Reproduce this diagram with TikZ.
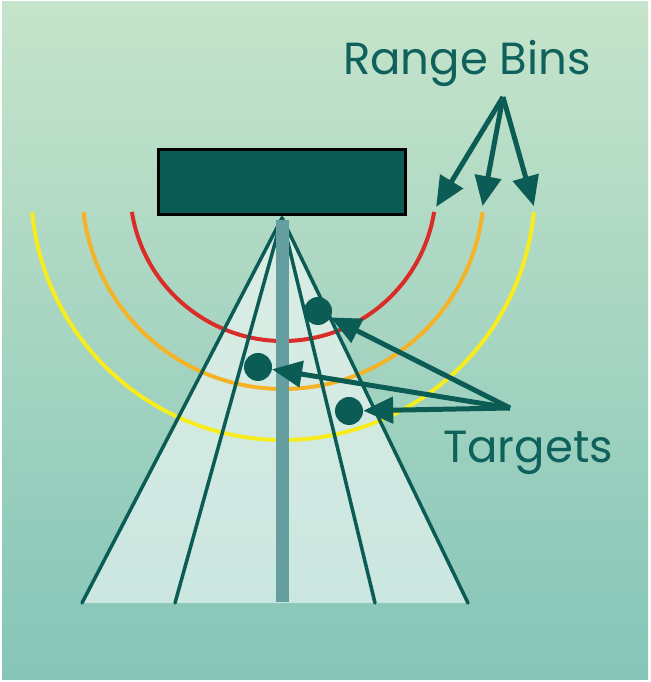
\documentclass[tikz,border=0pt]{standalone}
\usepackage{fontspec}
\setmainfont{Poppins}
\usetikzlibrary{arrows.meta,calc}
\definecolor{bgtop}{RGB}{198,228,203}
\definecolor{bgbot}{RGB}{133,197,184}
\definecolor{tealdk}{RGB}{12,92,86}
\definecolor{txtteal}{RGB}{15,97,92}
\definecolor{polecol}{RGB}{100,158,158}
\definecolor{arcred}{RGB}{218,44,40}
\definecolor{arcorange}{RGB}{245,180,40}
\definecolor{arcyellow}{RGB}{246,236,30}
\tikzset{
  fanline/.style={draw=tealdk,line width=3.5pt,line cap=round},
  polestyle/.style={draw=polecol,line width=13pt},
  rangearc/.style={line width=4pt},
  radarbox/.style={draw=black,line width=3pt,fill=tealdk,minimum width=247pt,minimum height=65pt,inner sep=0pt},
  target/.style={circle,fill=tealdk,minimum size=28pt,inner sep=0pt},
  pointer/.style={draw=tealdk,line width=5pt,-{Triangle[length=30pt,width=26pt]}},
  label/.style={text=txtteal,font=\fontsize{45}{50}\selectfont,anchor=base,inner sep=0pt}
}
\begin{document}
\begin{tikzpicture}[x=1pt,y=1pt]
\useasboundingbox (0,0) rectangle (650,682);
\fill[white] (0,0) rectangle (650,682);
\shade[top color=bgtop,bottom color=bgbot] (2,2) rectangle (648,680);
% geometry
\coordinate (apex) at (282,464);
\coordinate (b1) at (82,79);
\coordinate (b2) at (175,79);
\coordinate (b3) at (375,79);
\coordinate (b4) at (468,79);
\coordinate (c) at (283,494);
\coordinate (poletop) at (282.5,462);
\coordinate (polebot) at (282.5,80);
% fan fill
\fill[white,opacity=0.55] (apex) -- (b1) -- (b4) -- cycle;
% range arcs
\draw[rangearc,arcred] (c) ++(189:153) arc[start angle=189,end angle=351,radius=153] coordinate (rE);
\draw[rangearc,arcorange] (c) ++(186.9:201) arc[start angle=186.9,end angle=353.1,radius=201] coordinate (oE);
\draw[rangearc,arcyellow] (c) ++(185.5:252) arc[start angle=185.5,end angle=354.5,radius=252] coordinate (yE);
% fan lines
\draw[fanline] (apex) -- (b1);
\draw[fanline] (apex) -- (b2);
\draw[fanline] (apex) -- (b3);
\draw[fanline] (apex) -- (b4);
% pole
\draw[polestyle] (poletop) -- (polebot);
% radar box
\node[radarbox] (radar) at (281.5,499.5) {};
% targets
\node[target] (d1) at (318,371) {};
\node[target] (d2) at (258,315) {};
\node[target] (d3) at (349,271) {};
% labels
\node[label] (rb) at (467,607) {Range Bins};
\node[label] (tg) at (528,219) {Targets};
\coordinate (rbo) at (503,585);
\coordinate (tgo) at (510,274);
% range bin arrows
\draw[pointer] (rbo) -- ($(rE)+(2,5)$);
\draw[pointer] (rbo) -- ($(oE)+(0,6)$);
\draw[pointer] (rbo) -- ($(yE)+(0,6)$);
% target arrows
\draw[pointer] (tgo) -- (d1);
\draw[pointer] (tgo) -- (d2);
\draw[pointer] (tgo) -- (d3);
\end{tikzpicture}
\end{document}
